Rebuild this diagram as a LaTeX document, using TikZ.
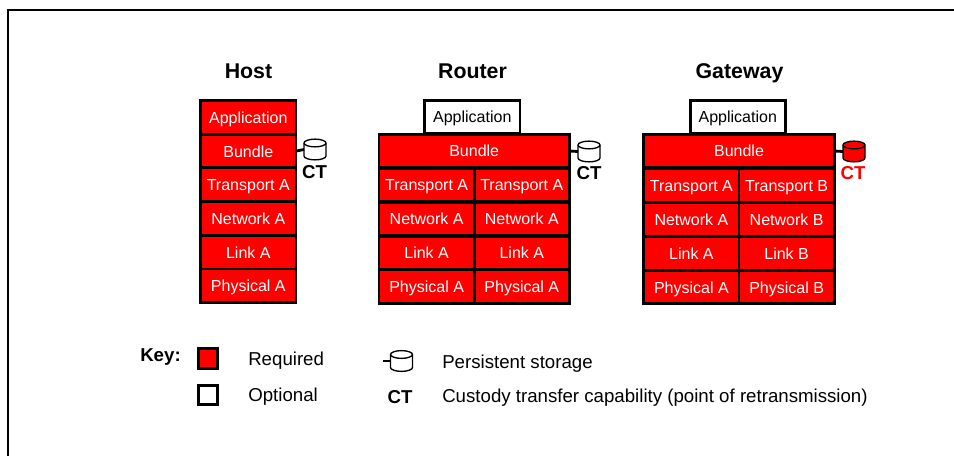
\documentclass[tikz,border=0pt]{standalone}
\usepackage{fontspec}
\setmainfont{Liberation Sans}

\definecolor{reqred}{RGB}{255,0,0}

\tikzset{
	layer/.style={draw=black,line width=2.1pt,fill=reqred,text=white,font=\fontsize{12}{14}\selectfont,
		minimum height=25.2pt,minimum width=71.4pt,inner sep=0pt,outer sep=0pt,text height=10.6pt,text depth=1.6pt},
	optlayer/.style={layer,fill=white,text=black},
	widelayer/.style={layer,minimum width=142.8pt},
	title/.style={anchor=base,font=\fontsize{16}{18}\selectfont\bfseries},
	ctlabel/.style={anchor=base,font=\fontsize{14}{16}\selectfont\bfseries},
	keytext/.style={anchor=base west,inner sep=0pt,font=\fontsize{14}{16}\selectfont},
	keybox/.style={draw=black,line width=2.1pt,minimum size=14.5pt,inner sep=0pt},
	stub/.style={line width=2.1pt},
	drum/.pic={
		\coordinate (-west) at (-11,0);
		\path[pic actions,draw=black,line width=1pt] (-11,-6.5) -- (-11,6.5) arc[start angle=180,end angle=360,x radius=8.25pt,y radius=2.9pt] -- (11,-6.5) arc[start angle=0,end angle=180,x radius=8.25pt,y radius=2.9pt] -- cycle;
		\draw[line width=1pt] (-11,-6.5) arc[start angle=180,end angle=360,x radius=8.25pt,y radius=2.9pt];
	}
}

\begin{document}
\begin{tikzpicture}[x=0.75pt,y=-0.75pt]
	\useasboundingbox (0,0) rectangle (954,456);
	\draw[line width=1.5pt] (8,456) -- (8,10) -- (954,10);

	% host
	\node[title] (hosttitle) at (248.5,79) {Host};
	\node[layer] (hostapp) at (248.3,117.7) {Application};
	\node[layer] (hostbundle) at (248.3,151.1) {Bundle};
	\node[layer] (hosttrans) at (248.3,184.7) {Transport A};
	\node[layer] (hostnet) at (248.3,218.5) {Network A};
	\node[layer] (hostlink) at (248.3,252.3) {Link A};
	\node[layer] (hostphy) at (248.3,285.9) {Physical A};
	\pic[fill=white] (hoststore) at (315,149.5) {drum};
	\node[ctlabel,text=black] (hostct) at (314.5,179) {CT};
	\draw[stub] (hostbundle.east) -- (hoststore-west);

	% router
	\node[title] (routertitle) at (472.5,79) {Router};
	\node[optlayer] (routerapp) at (472.3,117) {Application};
	\node[widelayer] (routerbundle) at (474.2,151) {Bundle};
	\node[layer] (routertransa) at (426.6,185) {Transport A};
	\node[layer] (routertransb) at (521.8,185) {Transport A};
	\node[layer] (routerneta) at (426.6,219) {Network A};
	\node[layer] (routernetb) at (521.8,219) {Network A};
	\node[layer] (routerlinka) at (426.6,253) {Link A};
	\node[layer] (routerlinkb) at (521.8,253) {Link A};
	\node[layer] (routerphya) at (426.6,286.6) {Physical A};
	\node[layer] (routerphyb) at (521.8,286.6) {Physical A};
	\pic[fill=white] (routerstore) at (589,151.5) {drum};
	\node[ctlabel,text=black] (routerct) at (589,180) {CT};
	\draw[stub] (routerbundle.east) -- (routerstore-west);

	% gateway
	\node[title] (gatewaytitle) at (739.5,78.5) {Gateway};
	\node[optlayer] (gatewayapp) at (737.8,117) {Application};
	\node[widelayer] (gatewaybundle) at (739,151) {Bundle};
	\node[layer] (gatewaytransa) at (691.4,185.5) {Transport A};
	\node[layer] (gatewaytransb) at (786.6,185.5) {Transport B};
	\node[layer] (gatewayneta) at (691.4,219.5) {Network A};
	\node[layer] (gatewaynetb) at (786.6,219.5) {Network B};
	\node[layer] (gatewaylinka) at (691.4,253.5) {Link A};
	\node[layer] (gatewaylinkb) at (786.6,253.5) {Link B};
	\node[layer] (gatewayphya) at (691.4,287) {Physical A};
	\node[layer] (gatewayphyb) at (786.6,287) {Physical B};
	\pic[fill=reqred] (gatewaystore) at (854,151.5) {drum};
	\node[ctlabel,text=reqred] (gatewayct) at (853,180) {CT};
	\draw[stub] (gatewaybundle.east) -- (gatewaystore-west);

	% key
	\node[ctlabel] (keytitle) at (160.5,361.7) {Key:};
	\node[keybox,fill=reqred] (keyreq) at (208,358.5) {};
	\node[keybox,fill=white] (keyopt) at (208,395) {};
	\node[keytext] (keyreqtext) at (248,365) {Required};
	\node[keytext] (keyopttext) at (248,401) {Optional};
	\pic[fill=white] (keystore) at (401.5,361) {drum};
	\coordinate (keystub) at (383,361);
	\draw[stub] (keystub) -- (keystore-west);
	\node[ctlabel] (keyct) at (400,403) {CT};
	\node[keytext] (keystoretext) at (442,368.5) {Persistent storage};
	\node[keytext] (keycttext) at (442,402.5) {Custody transfer capability (point of retransmission)};
\end{tikzpicture}
\end{document}
